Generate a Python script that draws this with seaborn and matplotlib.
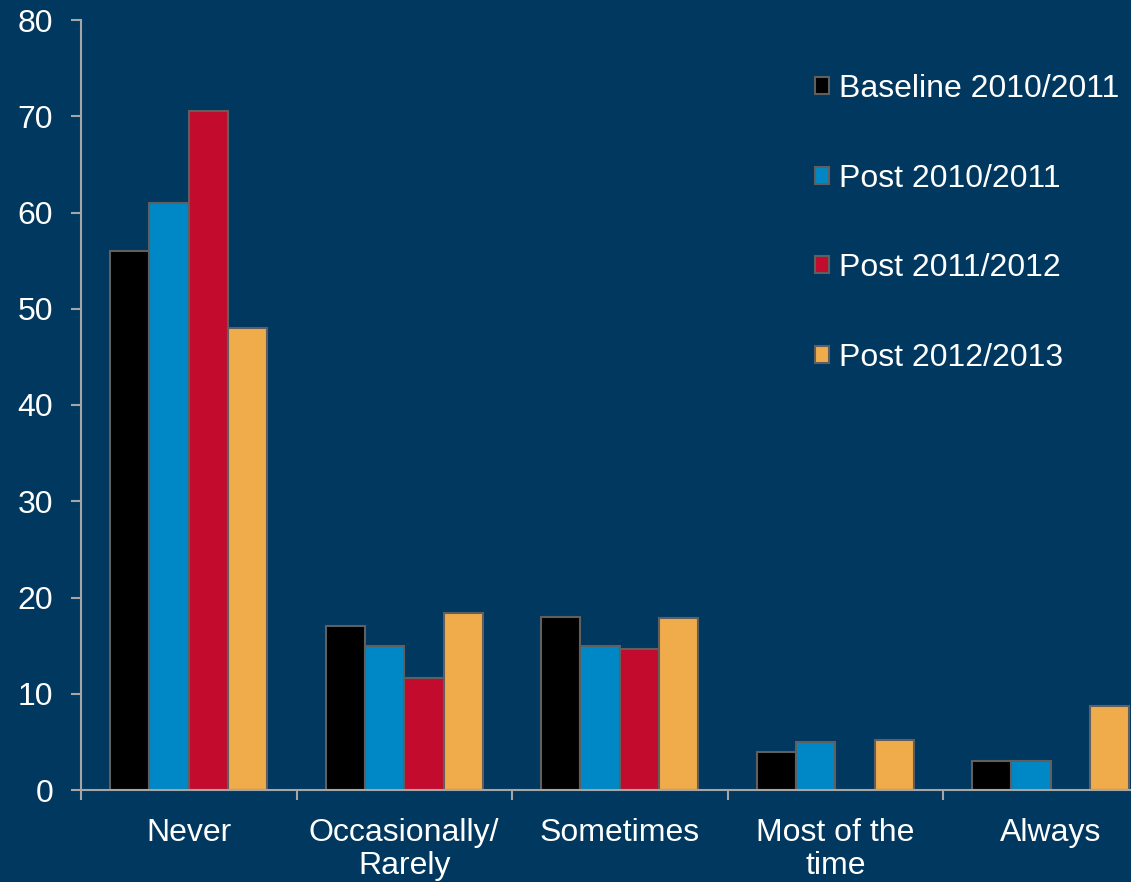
import pandas as pd
import matplotlib.pyplot as plt
import seaborn as sns

# values (percent)
categories = ["Never", "Occasionally/\nRarely", "Sometimes", "Most of the\ntime", "Always"]
series = ["Baseline 2010/2011", "Post 2010/2011", "Post 2011/2012", "Post 2012/2013"]
baseline_1011 = [56, 17, 18, 4, 3]
post_1011 = [61, 15, 15, 5, 3]
post_1112 = [70.5, 11.6, 14.6, 0, 0]
post_1213 = [48, 18.4, 17.9, 5.2, 8.7]

colors = ["#000000", "#0088c6", "#c30b2e", "#f0ac4b"]
bg = "#01385f"
axis_col = "#a6a6a6"

rows = []
for name, vals in zip(series, [baseline_1011, post_1011, post_1112, post_1213]):
    for cat, v in zip(categories, vals):
        rows.append({"Category": cat, "Series": name, "Value": v})
data = pd.DataFrame(rows)

sns.set_style("white")
plt.rcParams['font.family'] = ['Liberation Sans', 'DejaVu Sans']

fig = plt.figure(figsize=(11.31, 8.82), dpi=100, facecolor=bg)
ax = fig.add_axes([81 / 1131, 92 / 882, 1077.5 / 1131, 770 / 882])
ax.set_facecolor(bg)

sns.barplot(data=data, x="Category", y="Value", hue="Series", order=categories,
            hue_order=series, palette=colors, saturation=1, width=0.73, gap=0,
            edgecolor="#5f5f5f", linewidth=1.5, ax=ax)

ax.set_ylim(0, 80)
ax.set_xlim(-0.5, 4.5)
ax.set_yticks(range(0, 81, 10))
ax.set_xlabel("")
ax.set_ylabel("")

for side in ["top", "right"]:
    ax.spines[side].set_visible(False)
for side in ["left", "bottom"]:
    ax.spines[side].set_color(axis_col)
    ax.spines[side].set_linewidth(1.5)

ax.tick_params(axis="y", colors=axis_col, labelcolor="white", labelsize=23,
               length=7, width=1.5, pad=13, left=True, direction="out")
ax.tick_params(axis="x", which="major", length=0, labelcolor="white",
               labelsize=23, pad=20)
ax.set_xticks([i - 0.5 for i in range(6)], minor=True)
ax.tick_params(axis="x", which="minor", length=7, width=1.5, colors=axis_col,
               bottom=True, direction="out")
for lab in ax.get_xticklabels():
    lab.set_linespacing(1.15)

leg = ax.legend(loc="upper left", bbox_to_anchor=(705 / 1077.5, 0.9675),
                frameon=False, fontsize=23, labelcolor="white",
                handlelength=0.45, handleheight=0.45, handletextpad=0.3,
                labelspacing=1.87)

fig.savefig("out.png", dpi=100, facecolor=bg)
